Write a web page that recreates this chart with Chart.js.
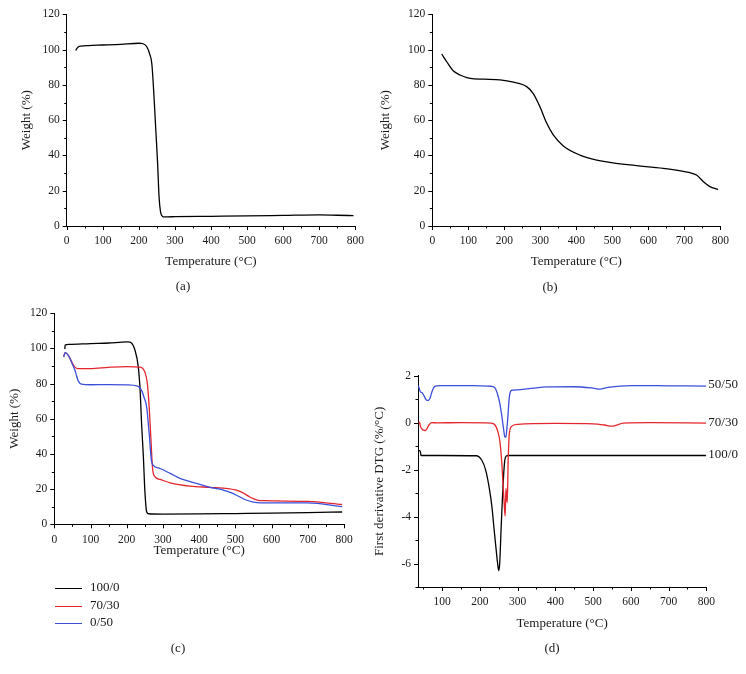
<!DOCTYPE html>
<html>
<head>
<meta charset="utf-8">
<script src="https://cdn.jsdelivr.net/npm/chart.js@4.4.1/dist/chart.umd.min.js"></script>
<style>
  body { margin: 0; background: #fff; }
  #wrap { position: relative; width: 746px; height: 674px; font-family: "Liberation Serif", "Times New Roman", serif; color: #1a1a1a; }
  #wrap canvas { position: absolute; left: 0; top: 0; }
  .cap { position: absolute; font-size: 13px; transform: translate(-50%, -50%); white-space: nowrap; }
  .leg { position: absolute; left: 55px; font-size: 13px; white-space: nowrap; }
  .leg i { display: inline-block; width: 27px; height: 0; border-top: 1.3px solid; vertical-align: middle; margin-right: 8px; }
</style>
</head>
<body>
<div id="wrap">
  <canvas id="chartA" width="746" height="674"></canvas>
  <canvas id="chartB" width="746" height="674"></canvas>
  <canvas id="chartC" width="746" height="674"></canvas>
  <canvas id="chartD" width="746" height="674"></canvas>
  <div class="cap" style="left:183px;top:286px">(a)</div>
  <div class="cap" style="left:550px;top:287px">(b)</div>
  <div class="cap" style="left:178px;top:648px">(c)</div>
  <div class="cap" style="left:552px;top:648px">(d)</div>
  <div class="leg" style="top:579px"><i style="color:#000"></i>100/0</div>
  <div class="leg" style="top:597px"><i style="color:#e3262b"></i>70/30</div>
  <div class="leg" style="top:614px"><i style="color:#3b4fd9"></i>0/50</div>
</div>
<script>
// (a) TGA, 100/0
var tempA = [25, 28, 32, 40, 60, 100, 150, 200, 212, 222, 230, 236, 242, 247, 252, 256, 260, 264, 268, 280, 300, 400, 500, 600, 700, 750, 795];
var weightA = [99.5, 100.6, 101.5, 102.0, 102.3, 102.6, 103.0, 103.6, 103.3, 101.6, 97.5, 92, 73.3, 54.4, 35.5, 16.6, 8.1, 5.8, 5.2, 5.2, 5.3, 5.5, 5.7, 6.0, 6.3, 6.1, 5.9];

// (b) TGA, 0/50
var tempB = [26, 40, 58, 77, 105, 142, 188, 225, 262, 280, 299, 318, 336, 364, 410, 457, 549, 642, 716, 734, 753, 771, 794];
var weightB = [97.5, 93.1, 88, 85.6, 83.7, 83.2, 82.8, 81.5, 79, 75.2, 67.6, 58.2, 51.6, 45.4, 40.2, 37.4, 34.6, 32.7, 30.2, 28.9, 25.1, 22.3, 20.8];

// (c) TGA of blends
var blendNames = ['100/0', '70/30', '0/50'];
var tempC1 = [29, 30, 40, 100, 150, 200, 209, 223, 232, 237, 241, 246, 250, 255, 260, 300, 400, 500, 600, 700, 795];
var weightC1 = [99.5, 101.8, 102.2, 102.7, 103.0, 103.6, 103.5, 98.8, 89.3, 76.1, 57.3, 38.3, 19.4, 7.1, 6.0, 5.8, 5.9, 6.1, 6.3, 6.6, 7.0];
var tempC2 = [26, 30, 40, 50, 57, 65, 100, 150, 200, 237, 250, 257, 262, 267, 271, 275, 292, 320, 375, 430, 480, 500, 520, 540, 560, 580, 700, 795];
var weightC2 = [95.5, 97.5, 95.5, 91.5, 89.3, 88.5, 88.5, 89.2, 89.6, 89.3, 86.5, 79.9, 66.7, 47.8, 32.7, 27.9, 25.5, 23.6, 21.7, 21.0, 20.3, 19.5, 18.0, 15.5, 13.8, 13.4, 13.0, 11.3];
var tempC3 = [26, 30, 40, 50, 57, 62, 66, 75, 100, 150, 200, 230, 241, 248, 255, 262, 268, 273, 292, 320, 347, 375, 402, 430, 460, 490, 510, 530, 550, 570, 600, 700, 795];
var weightC3 = [95, 97.5, 95.5, 91, 87.5, 84, 81.5, 79.6, 79.3, 79.4, 79.2, 78.5, 76.1, 72, 66.7, 51.6, 36.5, 33.6, 31.7, 28.9, 26.1, 24.2, 22.7, 21.0, 19.8, 17.8, 15.8, 13.8, 12.6, 12.2, 12.2, 12.2, 10.0];

// (d) DTG curves
var dtgNames = ['50/50', '70/30', '100/0'];
var tempD1 = [37, 40, 42, 46, 51, 56, 60, 64, 68, 73, 78, 85, 100, 150, 200, 230, 240, 247, 253, 258, 263, 266, 269, 271, 274, 278, 284, 300, 330, 380, 450, 500, 518, 540, 600, 700, 800];
var dtgD1 = [1.58, 1.42, 1.32, 1.28, 1.17, 1.02, 0.95, 0.95, 1.05, 1.32, 1.5, 1.57, 1.58, 1.58, 1.57, 1.55, 1.48, 1.2, 0.8, 0.3, -0.3, -0.6, -0.62, -0.35, 0.2, 1.09, 1.38, 1.4, 1.45, 1.52, 1.53, 1.47, 1.43, 1.5, 1.58, 1.57, 1.56];
var tempD2 = [37, 40, 43, 47, 51, 55, 60, 65, 72, 85, 150, 230, 240, 247, 253, 258, 262, 265, 267, 269, 271, 272.5, 275, 278, 284, 300, 400, 500, 530, 550, 560, 580, 650, 800];
var dtgD2 = [0.03, 0.0, -0.18, -0.28, -0.32, -0.34, -0.25, -0.1, 0.0, -0.01, 0.0, -0.02, -0.1, -0.35, -0.8, -1.7, -2.8, -3.6, -3.98, -2.8, -3.2, -3.4, -1.6, -0.47, -0.16, -0.07, -0.03, -0.05, -0.1, -0.15, -0.12, -0.02, 0.0, -0.02];
var tempD3 = [37, 41, 43, 44, 100, 190, 205, 215, 225, 232, 238, 243, 247, 250, 252.5, 256, 259.5, 263, 266, 270, 276, 300, 800];
var dtgD3 = [-1.18, -1.2, -1.3, -1.4, -1.4, -1.41, -1.6, -2.0, -2.8, -3.6, -4.6, -5.4, -6.0, -6.3, -6.0, -4.6, -3.3, -2.2, -1.6, -1.42, -1.4, -1.4, -1.4];

var FONT = '"Liberation Serif", "Times New Roman", serif';
var BLACK = '#000000', RED = '#e3262b', BLUE = '#3b4fd9';

function pts(xs, ys) {
    return xs.map(function (x, i) { return { x: x, y: ys[i] }; });
}

function range(a, b, step) {
    var out = [];
    for (var v = a; v <= b + 1e-9; v += step) out.push({ value: v });
    return out;
}

// minor and major tick marks, drawn outward from the axis lines
var tickMarks = {
    id: 'tickMarks',
    afterDraw: function (chart) {
        var ctx = chart.ctx, sx = chart.scales.x, sy = chart.scales.y;
        ctx.save();
        ctx.strokeStyle = '#000';
        ctx.lineWidth = 1;
        ctx.beginPath();
        sx.ticks.forEach(function (t) {
            var px = Math.round(sx.getPixelForValue(t.value)) + 0.5;
            var len = t.label !== '' ? 4 : 2.5;
            ctx.moveTo(px, sx.top);
            ctx.lineTo(px, sx.top + len);
        });
        sy.ticks.forEach(function (t) {
            var py = Math.round(sy.getPixelForValue(t.value)) + 0.5;
            var len = t.label !== '' ? 4 : 2.5;
            ctx.moveTo(sy.right, py);
            ctx.lineTo(sy.right - len, py);
        });
        ctx.stroke();
        ctx.restore();
    }
};

// series names written at the right end of each DTG curve
var endLabels = {
    id: 'endLabels',
    afterDatasetsDraw: function (chart) {
        var ctx = chart.ctx;
        ctx.save();
        ctx.font = '13px ' + FONT;
        ctx.fillStyle = '#1a1a1a';
        ctx.textBaseline = 'middle';
        chart.data.datasets.forEach(function (ds, i) {
            var els = chart.getDatasetMeta(i).data;
            var p = els[els.length - 1];
            ctx.fillText(ds.label, p.x + 2, p.y - 1);
        });
        ctx.restore();
    }
};

function makePanel(id, box, ax, datasets, extra) {
    var plugins = [tickMarks].concat(extra || []);
    return new Chart(document.getElementById(id), {
        type: 'line',
        data: { datasets: datasets },
        options: {
            responsive: false,
            animation: false,
            layout: {
                padding: {
                    left: box.left - box.yw,
                    top: box.top,
                    right: 746 - box.right,
                    bottom: 674 - box.bottom - box.xh
                }
            },
            plugins: { legend: { display: false }, tooltip: { enabled: false } },
            elements: {
                point: { radius: 0 },
                line: { borderWidth: 1.3, cubicInterpolationMode: 'monotone' }
            },
            scales: {
                x: {
                    type: 'linear',
                    min: ax.xMin, max: ax.xMax,
                    afterFit: function (s) { s.height = box.xh; },
                    afterBuildTicks: function (s) { s.ticks = range(ax.xFirst, ax.xMax, ax.xMinor); },
                    grid: { display: false, drawTicks: false },
                    border: { display: true, color: '#000', width: 1 },
                    ticks: {
                        autoSkip: false, maxRotation: 0, padding: 8.5,
                        color: '#1a1a1a', font: { family: FONT, size: 11.5 },
                        callback: function (v) { return v % ax.xMajor === 0 ? String(v) : ''; }
                    },
                    title: { display: true, text: 'Temperature (°C)', color: '#1a1a1a', padding: 0, font: { family: FONT, size: 13 } }
                },
                y: {
                    type: 'linear',
                    min: ax.yMin, max: ax.yMax,
                    afterFit: function (s) { s.width = box.yw; },
                    afterBuildTicks: function (s) { s.ticks = range(ax.yMin, ax.yMax, ax.yMinor); },
                    grid: { display: false, drawTicks: false },
                    border: { display: true, color: '#000', width: 1 },
                    ticks: {
                        autoSkip: false, padding: 7,
                        color: '#1a1a1a', font: { family: FONT, size: 11.5 },
                        callback: function (v) { return v % ax.yMajor === 0 ? String(v) : ''; }
                    },
                    title: { display: true, text: ax.yTitle, color: '#1a1a1a', padding: 0, font: { family: FONT, size: 13 } }
                }
            }
        },
        plugins: plugins
    });
}

var tgaAxes = { xMin: 0, xMax: 800, xFirst: 0, xMinor: 50, xMajor: 100, yMin: 0, yMax: 120, yMinor: 10, yMajor: 20, yTitle: 'Weight (%)' };

makePanel('chartA', { left: 66.7, top: 14.3, right: 355.3, bottom: 226, yw: 47.5, xh: 43.8 }, tgaAxes, [
    { label: '100/0', data: pts(tempA, weightA), borderColor: BLACK }
]);

makePanel('chartB', { left: 432.3, top: 14.3, right: 720.3, bottom: 226, yw: 54.4, xh: 43.5 }, tgaAxes, [
    { label: '0/50', data: pts(tempB, weightB), borderColor: BLACK }
]);

makePanel('chartC', { left: 54.3, top: 313.1, right: 344, bottom: 524.3, yw: 47.1, xh: 34.2 }, tgaAxes, [
    { label: blendNames[2], data: pts(tempC3, weightC3), borderColor: BLUE },
    { label: blendNames[1], data: pts(tempC2, weightC2), borderColor: RED },
    { label: blendNames[0], data: pts(tempC1, weightC1), borderColor: BLACK }
]);

makePanel('chartD', { left: 418, top: 375.7, right: 706.3, bottom: 587, yw: 46.1, xh: 44.1 }, {
    xMin: 36, xMax: 800, xFirst: 50, xMinor: 50, xMajor: 100,
    yMin: -7, yMax: 2, yMinor: 1, yMajor: 2, yTitle: 'First derivative DTG (%/°C)'
}, [
    { label: dtgNames[0], data: pts(tempD1, dtgD1), borderColor: BLUE },
    { label: dtgNames[1], data: pts(tempD2, dtgD2), borderColor: RED },
    { label: dtgNames[2], data: pts(tempD3, dtgD3), borderColor: BLACK }
], [endLabels]);
</script>
</body>
</html>
